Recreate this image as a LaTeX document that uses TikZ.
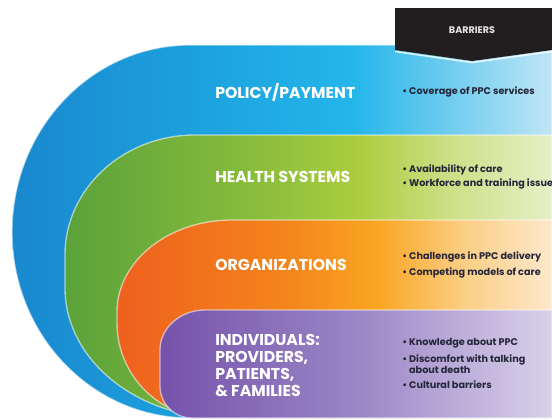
\documentclass[tikz,border=0pt]{standalone}
\usepackage{fontspec}
\setmainfont{Poppins}
\usepackage{xcolor}

\definecolor{textnavy}{HTML}{26263A}
\definecolor{bannerblack}{HTML}{221E1F}
\definecolor{bannertext}{HTML}{E4E4E4}

% band colours, left to right
\definecolor{bA}{HTML}{1A88CF}\definecolor{bB}{HTML}{1CA2DE}\definecolor{bC}{HTML}{24B6EA}\definecolor{bD}{HTML}{6CCBEE}\definecolor{bE}{HTML}{BFE6F5}
\definecolor{gA}{HTML}{5AA23A}\definecolor{gB}{HTML}{88BC3C}\definecolor{gC}{HTML}{ABCD3E}\definecolor{gD}{HTML}{CFE08A}\definecolor{gE}{HTML}{E6EFC8}
\definecolor{oA}{HTML}{EE601E}\definecolor{oB}{HTML}{F4861C}\definecolor{oC}{HTML}{F9A623}\definecolor{oD}{HTML}{FBCF86}\definecolor{oE}{HTML}{FDE8CC}
\definecolor{pA}{HTML}{7552AA}\definecolor{pB}{HTML}{9A86C6}\definecolor{pC}{HTML}{D9D1EA}

\pgfdeclarehorizontalshading{bluelayer}{100bp}{color(0bp)=(bA); color(25bp)=(bA); color(42.5bp)=(bB); color(56.5bp)=(bC); color(65bp)=(bD); color(75bp)=(bE); color(100bp)=(bE)}
\pgfdeclarehorizontalshading{greenlayer}{100bp}{color(0bp)=(gA); color(25bp)=(gA); color(44bp)=(gB); color(55bp)=(gC); color(65bp)=(gD); color(75bp)=(gE); color(100bp)=(gE)}
\pgfdeclarehorizontalshading{orangelayer}{100bp}{color(0bp)=(oA); color(25bp)=(oA); color(45bp)=(oB); color(55bp)=(oC); color(65bp)=(oD); color(75bp)=(oE); color(100bp)=(oE)}
\pgfdeclarehorizontalshading{purplelayer}{100bp}{color(0bp)=(pA); color(25bp)=(pA); color(50bp)=(pB); color(75bp)=(pC); color(100bp)=(pC)}

\begin{document}
\begin{tikzpicture}[x=0.75pt, y=0.75pt,
    every node/.style={inner sep=0pt},
    layer/.style={draw=white, draw opacity=0.55, line width=1pt},
    level/.style={anchor=west, text=white, align=left, font=\bfseries\fontsize{11.8}{12.75}\selectfont},
    barrier/.style={anchor=west, text=textnavy, align=left, font=\bfseries\fontsize{7.25}{8.25}\selectfont}]

    \useasboundingbox (0,0) rectangle (552,419);

    % Nested layers, outside in: left/top/top rx/top ry/bottom rx/bottom ry/shading
    \foreach \lx/\ty/\ra/\rb/\rc/\rd/\shd in {12/374/178/187/178/186/bluelayer, 65/284/130/120/160/130/greenlayer, 117/199/115/92/95/95/orangelayer, 160/109/45/40/32/32/purplelayer} {
        \shadedraw[layer, shading=\shd] (552,\ty) -- (\lx+\ra,\ty)
            arc[start angle=90, end angle=180, x radius=\ra, y radius=\rb] -- (\lx,1+\rd)
            arc[start angle=180, end angle=270, x radius=\rc, y radius=\rd] -- (552,1) -- cycle;
    }

    % Banner
    \fill[bannerblack] (395,411) -- (552,411) -- (552,369) -- (472,358) -- (395,369) -- cycle;
    \draw[white, opacity=0.8, line width=1.2pt] (395,367.5) -- (472,356.5) -- (552,367.5);
    \node[text=bannertext, font=\bfseries\fontsize{7.2}{8}\selectfont] (barriers) at (472,389) {BARRIERS};

    % Levels
    \node[level] (policy) at (215,327) {POLICY/PAYMENT};
    \node[level] (health) at (215,242) {HEALTH SYSTEMS};
    \node[level] (orgs) at (215,154) {ORGANIZATIONS};
    \node[level] (indiv) at (215,53.5) {INDIVIDUALS:\\PROVIDERS,\\PATIENTS,\\\& FAMILIES};

    % Barriers per level
    \node[barrier] (cover) at (402,327) {• Coverage of PPC services};
    \node[barrier] (avail) at (402,249) {• Availability of care};
    \node[barrier] (work) at (402,235) {• Workforce and training issues};
    \node[barrier] (chall) at (402,162) {• Challenges in PPC delivery};
    \node[barrier] (compete) at (402,146) {• Competing models of care};
    \node[barrier] (know) at (402,76) {• Knowledge about PPC};
    \node[barrier] (discom) at (402,54.5) {• Discomfort with talking\\\phantom{• }about death};
    \node[barrier] (cult) at (402,34) {• Cultural barriers};

\end{tikzpicture}
\end{document}
